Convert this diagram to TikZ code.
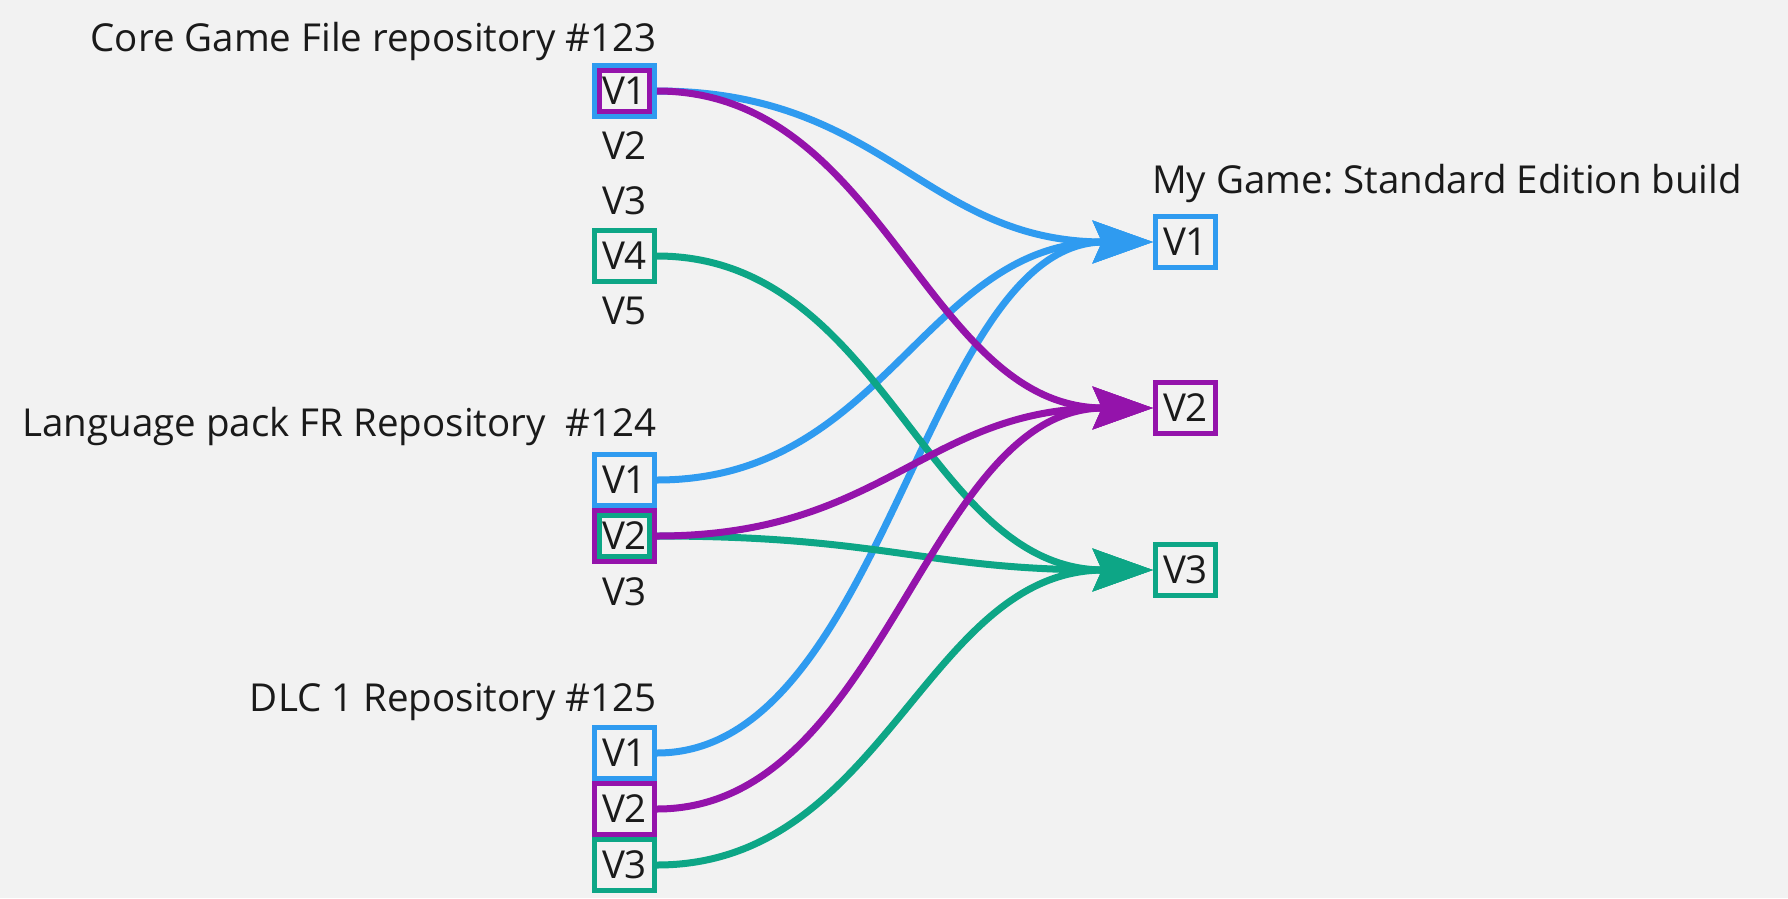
\documentclass[tikz,border=0pt]{standalone}
\usepackage{fontspec}
\setmainfont{Open Sans}
\usetikzlibrary{arrows.meta,positioning}
\frenchspacing
\definecolor{bgcol}{RGB}{242,242,242}
\definecolor{txtcol}{RGB}{26,26,26}
\definecolor{verblue}{RGB}{47,155,240}
\definecolor{verpurple}{RGB}{148,19,171}
\definecolor{vergreen}{RGB}{13,166,134}
\tikzset{
  vtext/.style={inner sep=0pt, text=txtcol, font=\fontsize{38.5}{46}\selectfont},
  vbox/.style={vtext, draw=#1, line width=5pt, fill=bgcol,
               minimum width=60pt, minimum height=51pt},
  vinner/.style={draw=#1, line width=5pt, inner sep=0pt,
                 minimum width=50pt, minimum height=41pt},
  header/.style={vtext, anchor=base east},
  link/.style={draw=#1, line width=7pt,
               -{Stealth[length=60pt,width=42pt,inset=9pt]},
               to path={.. controls +(228,0) and +(-228,0) .. (\tikztotarget)}}
}

\begin{document}
\begin{tikzpicture}[x=1pt, y=-1pt]
  \fill[bgcol] (0,0) rectangle (1788,898);
  \useasboundingbox (0,0) rectangle (1788,898);

  % core game files
  \node[header] (hcore) at (657,51) {Core Game File repository \#123};
  \node[vbox=verblue] (c1) at (624.5,91) {V1};
  \node[vinner=verpurple] (c1x) at (c1.center) {};
  \node[vtext] (c2) at (624.5,146) {V2};
  \node[vtext] (c3) at (624.5,201) {V3};
  \node[vbox=vergreen] (c4) at (624.5,256) {V4};
  \node[vtext] (c5) at (624.5,311) {V5};

  % language pack
  \node[header] (hlang) at (657,436) {Language pack FR Repository \ \#124};
  \node[vbox=verblue] (l1) at (624.5,480) {V1};
  \node[vbox=verpurple] (l2) at (624.5,536) {V2};
  \node[vinner=vergreen] (l2x) at (l2.center) {};
  \node[vtext] (l3) at (624.5,592) {V3};

  % dlc
  \node[header] (hdlc) at (657,711) {DLC 1 Repository \#125};
  \node[vbox=verblue] (d1) at (624.5,753) {V1};
  \node[vbox=verpurple] (d2) at (624.5,809) {V2};
  \node[vbox=vergreen] (d3) at (624.5,865) {V3};

  % build
  \node[header, anchor=base west] (hgame) at (1152,193) {My Game: Standard Edition build};
  \node[vbox=verblue] (g1) at (1185.5,242) {V1};
  \node[vbox=verpurple] (g2) at (1185.5,408) {V2};
  \node[vbox=vergreen] (g3) at (1185.5,570) {V3};

  \draw[link=verblue] (c1.east) to (g1.west);
  \draw[link=verblue] (l1.east) to (g1.west);
  \draw[link=verblue] (d1.east) to (g1.west);
  \draw[link=vergreen] (c4.east) to (g3.west);
  \draw[link=vergreen] (l2.east) to (g3.west);
  \draw[link=vergreen] (d3.east) to (g3.west);
  \draw[link=verpurple] (c1.east) to (g2.west);
  \draw[link=verpurple] (l2.east) to (g2.west);
  \draw[link=verpurple] (d2.east) to (g2.west);
\end{tikzpicture}
\end{document}
